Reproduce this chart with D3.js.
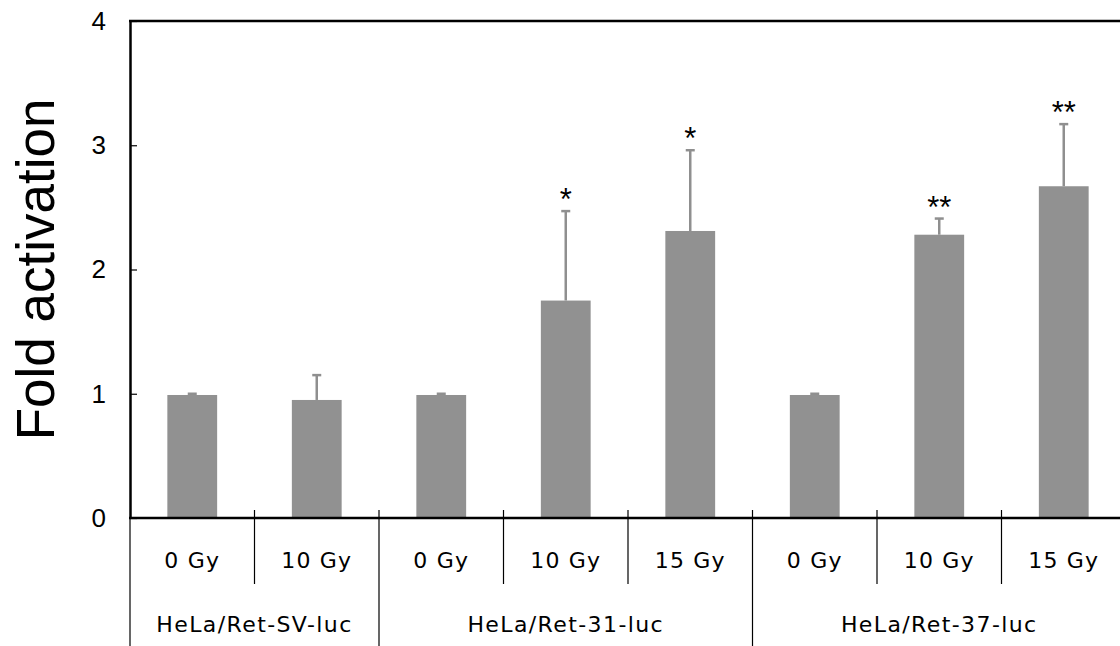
<!DOCTYPE html>
<html>
<head>
<meta charset="utf-8">
<script src="https://cdn.jsdelivr.net/npm/d3@7"></script>
<style>
  body { margin: 0; background: #fff; }
  svg { display: block; }
</style>
</head>
<body>
<div id="chart"></div>
<script>
const svgWidth = 1120;
const svgHeight = 646;

// data
const doses = ["0 Gy", "10 Gy", "0 Gy", "10 Gy", "15 Gy", "0 Gy", "10 Gy", "15 Gy"];
const groups = ["HeLa/Ret-SV-luc", "HeLa/Ret-31-luc", "HeLa/Ret-37-luc"];
const groupSizes = [2, 3, 3];
const means = [0.99, 0.95, 0.99, 1.75, 2.31, 0.99, 2.28, 2.67];
const errs = [0.01, 0.20, 0.01, 0.72, 0.65, 0.01, 0.13, 0.50];
const stars = ["", "", "", "*", "*", "", "**", "**"];
const yTicks = [0, 1, 2, 3, 4];

const plotLeft = 130, plotTop = 21, plotBottom = 518, step = 124.5;

let svg = d3.select("#chart").append("svg").attr("width", svgWidth).attr("height", svgHeight);

let x = d3.scaleBand()
  .domain(d3.range(doses.length))
  .range([plotLeft, plotLeft + step * doses.length])
  .padding(0);
let y = d3.scaleLinear().domain([0, 4]).range([plotBottom, plotTop]);
const barW = x.bandwidth() * 0.4;

// bars
svg.append("g").selectAll("rect")
  .data(means)
  .enter()
  .append("rect")
  .attr("x", (d, i) => x(i) + x.bandwidth() / 2 - barW / 2)
  .attr("y", d => y(d))
  .attr("width", barW)
  .attr("height", d => y(0) - y(d))
  .attr("fill", "#919191");

// error bars (upper only)
let eg = svg.append("g").attr("stroke", "#8f8f8f").attr("stroke-width", 2.5);
means.forEach((m, i) => {
  let cx = x(i) + x.bandwidth() / 2;
  eg.append("line").attr("x1", cx).attr("x2", cx).attr("y1", y(m)).attr("y2", y(m + errs[i]));
  eg.append("line").attr("x1", cx - 4.5).attr("x2", cx + 4.5).attr("y1", y(m + errs[i])).attr("y2", y(m + errs[i]));
});

// significance stars
svg.append("g").selectAll("text")
  .data(stars)
  .enter()
  .append("text")
  .attr("x", (d, i) => x(i) + x.bandwidth() / 2)
  .attr("y", (d, i) => y(means[i] + errs[i]) - 1)
  .attr("text-anchor", "middle")
  .attr("font-family", "Liberation Sans, Arial, sans-serif")
  .attr("font-size", 31)
  .text(d => d);

// y axis
let yAxis = svg.append("g")
  .attr("transform", `translate(${plotLeft},0)`)
  .call(d3.axisLeft(y).tickValues(yTicks).tickFormat(d3.format("d")).tickSize(-7).tickSizeOuter(0).tickPadding(24));
yAxis.select(".domain").attr("stroke", "#000").attr("stroke-width", 2.5);
yAxis.selectAll(".tick line").attr("stroke", "#000").attr("stroke-width", 1.2);
yAxis.selectAll(".tick text")
  .attr("font-family", "Liberation Sans, Arial, sans-serif")
  .attr("font-size", 26)
  .attr("fill", "#000");

// top frame line
svg.append("line")
  .attr("x1", plotLeft - 1).attr("x2", x.range()[1])
  .attr("y1", y(4)).attr("y2", y(4))
  .attr("stroke", "#000").attr("stroke-width", 2.5);

// x axis line
svg.append("line")
  .attr("x1", plotLeft - 1).attr("x2", x.range()[1])
  .attr("y1", y(0)).attr("y2", y(0))
  .attr("stroke", "#000").attr("stroke-width", 2.5);

// category separators
let groupEnds = Array.from(d3.cumsum(groupSizes));
let sep = svg.append("g").attr("stroke", "#000").attr("stroke-width", 1.2);
sep.append("line").attr("x1", plotLeft).attr("x2", plotLeft).attr("y1", y(0)).attr("y2", svgHeight);
d3.range(1, doses.length + 1).forEach(i => {
  let xx = x.range()[0] + step * i;
  let isGroup = groupEnds.includes(i);
  sep.append("line")
    .attr("x1", xx).attr("x2", xx)
    .attr("y1", y(0) - 8)
    .attr("y2", isGroup ? svgHeight : 584);
});

// dose labels
svg.append("g").selectAll("text")
  .data(doses)
  .enter()
  .append("text")
  .attr("x", (d, i) => x(i) + x.bandwidth() / 2)
  .attr("y", 568)
  .attr("text-anchor", "middle")
  .attr("font-family", "DejaVu Sans, sans-serif")
  .attr("font-size", 22)
  .attr("letter-spacing", 1.2)
  .text(d => d);

// group labels
let starts = [0].concat(groupEnds.slice(0, -1));
svg.append("g").selectAll("text")
  .data(groups)
  .enter()
  .append("text")
  .attr("x", (d, i) => x(starts[i]) + step * groupSizes[i] / 2)
  .attr("y", 632)
  .attr("text-anchor", "middle")
  .attr("font-family", "DejaVu Sans, sans-serif")
  .attr("font-size", 22)
  .attr("letter-spacing", 1.4)
  .text(d => d);

// y title
svg.append("text")
  .attr("transform", `translate(54, ${(y(0) + y(4)) / 2}) rotate(-90)`)
  .attr("text-anchor", "middle")
  .attr("font-family", "Liberation Sans, Arial, sans-serif")
  .attr("font-size", 53)
  .text("Fold activation");
</script>
</body>
</html>
